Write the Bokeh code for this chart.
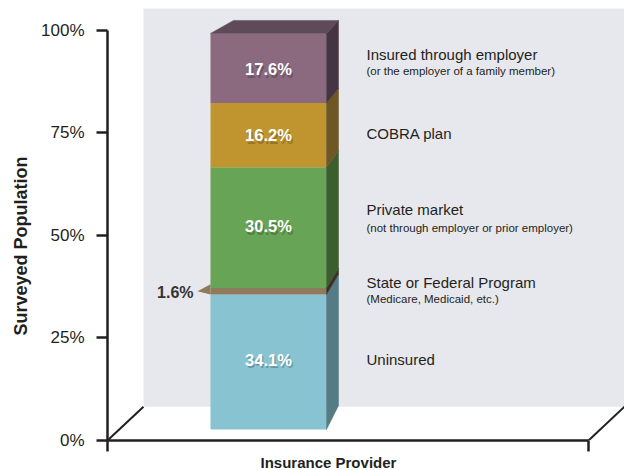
from bokeh.plotting import figure
from bokeh.models import Range1d, LinearAxis, FixedTicker, ColumnDataSource, Title
from bokeh.core.properties import value
from bokeh.embed import file_html
from bokeh.resources import INLINE

# ---------------- data ----------------
categories = ["Uninsured", "State or Federal Program", "Private market",
              "COBRA plan", "Insured through employer"]
notes = ["", "(Medicare, Medicaid, etc.)", "(not through employer or prior employer)",
         "", "(or the employer of a family member)"]
shares = [34.1, 1.6, 30.5, 16.2, 17.6]
share_labels = ["34.1%", "1.6%", "30.5%", "16.2%", "17.6%"]
y_ticks = [0, 25, 50, 75, 100]
y_tick_labels = ["0%", "25%", "50%", "75%", "100%"]

# ---------------- styles ----------------
front_colors = ["#87C3D0", "#8E7B5B", "#68A455", "#C0952F", "#8B6A80"]
side_colors = ["#557B84", "#3B3026", "#3C5D2E", "#6E5725", "#453441"]
top_color = "#5E4A58"
wall_color = "#E7E8ED"
ink = "#231F20"
SANS = "Liberation Sans"

W, H = 624, 470
LEFT, TOP, BOTTOM = 107, 8, 28
PX = 4.12                 # pixels per percent on the axis
FRAME_W, FRAME_H = W - LEFT, H - TOP - BOTTOM
Y_TOP = FRAME_H / PX
BASE, SCALE = 2.67, 0.966  # bar sits a little behind the front edge
BAR_L, BAR_R, BAR_BACK_R, BAR_BACK_L = 103, 219, 231, 126
WALL_X, WALL_Y = 36, 34 / PX
X_END = 481


def proj(v):
    return BASE + v * SCALE


def back_shift(v):
    return (24 - 11 * v / 100) / PX


p = figure(width=W, height=H, output_backend="svg", toolbar_location=None,
           x_range=Range1d(0, FRAME_W), y_range=Range1d(0, Y_TOP),
           x_axis_type=None, y_axis_type=None,
           min_border_left=LEFT, min_border_right=0, min_border_top=TOP,
           min_border_bottom=BOTTOM)
p.outline_line_color = None
p.xgrid.visible = False
p.ygrid.visible = False
p.background_fill_color = "white"
p.border_fill_color = "white"

# back wall
p.quad(left=[WALL_X], right=[FRAME_W + 20], bottom=[WALL_Y], top=[Y_TOP + 5],
       fill_color=wall_color, line_color=None)
# floor diagonals
p.segment(x0=[0, X_END], y0=[0, 0], x1=[WALL_X, X_END + WALL_X], y1=[WALL_Y, WALL_Y],
          line_color=ink, line_width=2)

# bar geometry from data
bottoms, tops = [], []
acc = 0.0
for s in shares:
    bottoms.append(acc)
    acc += s
    tops.append(acc)
mids = [(b + t) / 2 for b, t in zip(bottoms, tops)]

front = ColumnDataSource(dict(
    left=[BAR_L] * len(shares), right=[BAR_R] * len(shares),
    bottom=[proj(b) for b in bottoms], top=[proj(t) for t in tops],
    color=front_colors))
p.quad(left="left", right="right", bottom="bottom", top="top", fill_color="color",
       line_color=None, source=front)

side_xs = [[BAR_R, BAR_R, BAR_BACK_R, BAR_BACK_R] for _ in shares]
side_ys = [[proj(b), proj(t), proj(t) + back_shift(t), proj(b) + back_shift(b)]
           for b, t in zip(bottoms, tops)]
p.patches(xs=side_xs, ys=side_ys, fill_color=side_colors, line_color=side_colors, line_width=0.5)

T = proj(tops[-1])
p.patch(x=[BAR_L, BAR_R, BAR_BACK_R, BAR_BACK_L], y=[T, T, T + 13 / PX, T + 13 / PX],
        fill_color=top_color, line_color=top_color, line_width=0.5)

# callout wedge for the thin segment
i_thin = 1
p.patch(x=[BAR_L, BAR_L - 13, BAR_L],
        y=[proj(tops[i_thin]) + 4 / PX, proj(mids[i_thin]), proj(bottoms[i_thin])],
        fill_color=front_colors[i_thin], line_color=None)

# value labels on the bar (vertical centres, px below segment middle)
val_dy = [-2.5, 1.0, -1.5, 0.0, 1.0]
in_idx = [i for i in range(len(shares)) if i != i_thin]
cx = (BAR_L + BAR_R) / 2
lbl = dict(x=[cx] * len(in_idx), y=[proj(mids[i]) - val_dy[i] / PX for i in in_idx],
           t=[share_labels[i] for i in in_idx])
p.text(x=[v + 1.5 for v in lbl["x"]], y=[v - 2.5 / PX for v in lbl["y"]], text=lbl["t"],
       text_font=value(SANS), text_font_style="bold", text_font_size="16.5px",
       text_color="black", text_alpha=0.22, text_align="center", text_baseline="middle")
p.text(x="x", y="y", text="t", source=ColumnDataSource(lbl),
       text_font=value(SANS), text_font_style="bold", text_font_size="16.5px",
       text_color="white", text_align="center", text_baseline="middle")
p.text(x=[86], y=[proj(mids[i_thin]) - val_dy[i_thin] / PX], text=[share_labels[i_thin]],
       text_font=value(SANS), text_font_style="bold", text_font_size="16px",
       text_color="#333333", text_align="right", text_baseline="middle")

# category labels on the right (vertical centres, px below segment middle)
main_dy = [-2.1, -9.1, -18.7, -1.3, -14.0]
sub_dy = [0, 8.0, 0.0, 0, 3.0]
LX = 259
p.text(x=[LX] * len(categories), y=[proj(m) - d / PX for m, d in zip(mids, main_dy)],
       text=categories, text_font=value(SANS), text_font_size="15px", text_color=ink,
       text_align="left", text_baseline="middle")
sub_i = [i for i, n in enumerate(notes) if n]
p.text(x=[LX] * len(sub_i), y=[proj(mids[i]) - sub_dy[i] / PX for i in sub_i],
       text=[notes[i] for i in sub_i], text_font=value(SANS), text_font_size="11.5px",
       text_color=ink, text_align="left", text_baseline="middle")

# axes
yax = LinearAxis(ticker=FixedTicker(ticks=y_ticks),
                 major_label_overrides={t: l for t, l in zip(y_ticks, y_tick_labels)},
                 bounds=(-11 / PX, 100))
yax.axis_line_color = ink
yax.axis_line_width = 2.5
yax.major_tick_line_color = ink
yax.major_tick_line_width = 2.5
yax.major_tick_in = 0
yax.major_tick_out = 11
yax.minor_tick_line_color = None
yax.major_label_standoff = 12
yax.major_label_text_font = SANS
yax.major_label_text_font_size = "17px"
yax.major_label_text_color = ink
p.add_layout(yax, "left")

xax = LinearAxis(ticker=FixedTicker(ticks=[0, X_END]),
                 major_label_overrides={0: "", X_END: ""}, bounds=(-12, X_END))
xax.axis_line_color = ink
xax.axis_line_width = 2.5
xax.major_tick_line_color = ink
xax.major_tick_line_width = 2.5
xax.major_tick_in = 0
xax.major_tick_out = 11
xax.minor_tick_line_color = None
xax.major_label_standoff = 0
xax.major_label_text_font_size = "1px"
p.add_layout(xax, "below")

p.add_layout(Title(text="Surveyed Population", align="left", offset=105, standoff=16,
                   text_font=SANS, text_font_style="bold", text_font_size="18px",
                   text_color=ink), "left")
p.add_layout(Title(text="Insurance Provider", align="left", offset=153, standoff=0,
                   text_font=SANS, text_font_style="bold", text_font_size="15px",
                   text_color=ink), "below")

open("out.html", "w").write(file_html(p, INLINE))
